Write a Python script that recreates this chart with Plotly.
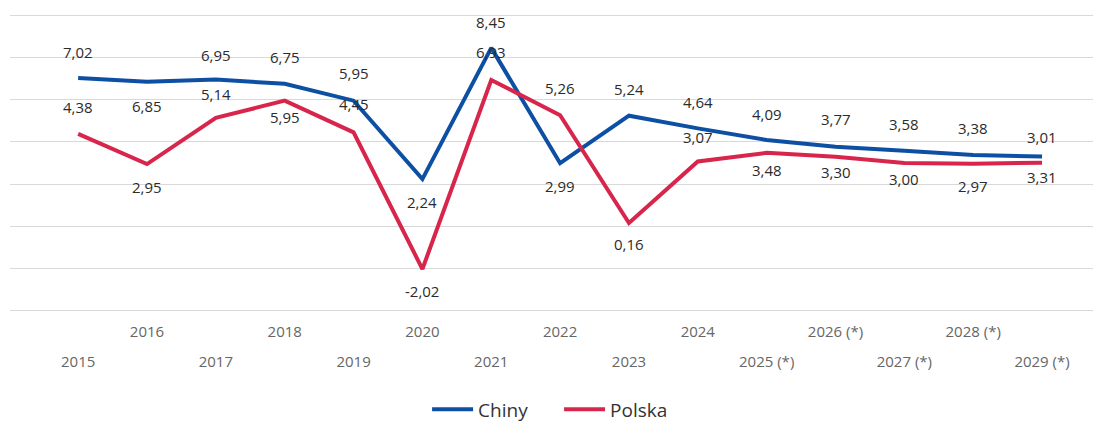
import plotly.graph_objects as go

years = list(range(2015, 2030))
tick_labels = ["2015", "2016", "2017", "2018", "2019", "2020", "2021", "2022", "2023", "2024",
               "2025 (*)", "2026 (*)", "2027 (*)", "2028 (*)", "2029 (*)"]
chiny = [7.02, 6.85, 6.95, 6.75, 5.95, 2.24, 8.45, 2.99, 5.24, 4.64, 4.09, 3.77, 3.58, 3.38, 3.31]
polska = [4.38, 2.95, 5.14, 5.95, 4.45, -2.02, 6.93, 5.26, 0.16, 3.07, 3.48, 3.30, 3.00, 2.97, 3.01]

# label vertical offsets in pixels (positive = above the line)
chiny_label_shift = [26, -24, 25, 27, 28, -23, 26, -23, 27, 26, 26, 28, 27, 27, -21]
polska_label_shift = [27, -23, 24, -16, 28, -22, 28, 27, -21, 25, -17, -15, -16, -22, 26]

BLUE = "#0c4fa3"
RED = "#d8254b"
FONT = "Open Sans"

fig = go.Figure()
fig.add_trace(go.Scatter(x=years, y=chiny, mode="lines", name="Chiny",
                         line=dict(color=BLUE, width=4)))
fig.add_trace(go.Scatter(x=years, y=polska, mode="lines", name="Polska",
                         line=dict(color=RED, width=4)))
# invisible trace to activate second x axis
fig.add_trace(go.Scatter(x=years, y=chiny, mode="lines", xaxis="x2", showlegend=False,
                         line=dict(width=0), hoverinfo="skip", opacity=0))

def fmt(v):
    return f"{v:.2f}".replace(".", ",")

for series, shifts in ((chiny, chiny_label_shift), (polska, polska_label_shift)):
    for yr, v, s in zip(years, series, shifts):
        fig.add_annotation(x=yr, y=v, text=fmt(v), showarrow=False, yshift=s,
                           font=dict(family=FONT, size=15, color="#2b2b2b"))

xr = [2014.01, 2029.74]
even_idx = [i for i in range(len(years)) if i % 2 == 1]
odd_idx = [i for i in range(len(years)) if i % 2 == 0]

fig.update_layout(
    width=1093, height=422,
    margin=dict(l=10, r=0, t=13, b=109),
    paper_bgcolor="white", plot_bgcolor="white",
    font=dict(family=FONT, size=15, color="#333333"),
    showlegend=True,
    legend=dict(orientation="h", xanchor="center", x=0.507, yref="container", y=0.03,
                yanchor="middle", entrywidth=76, entrywidthmode="pixels", itemwidth=41,
                font=dict(family=FONT, size=19, color="#333333")),
    xaxis=dict(range=xr, showgrid=False, zeroline=False, showline=False,
               tickmode="array", tickvals=[years[i] for i in even_idx],
               ticktext=[tick_labels[i] for i in even_idx],
               tickfont=dict(family=FONT, size=15, color="#666666"),
               ticks="", ticklabelstandoff=8),
    xaxis2=dict(range=xr, overlaying="x", side="bottom", anchor="y",
                showgrid=False, zeroline=False, showline=False,
                tickmode="array", tickvals=[years[i] for i in odd_idx],
                ticktext=[tick_labels[i] for i in odd_idx],
                tickfont=dict(family=FONT, size=15, color="#666666"),
                ticks="", ticklabelstandoff=38),
    yaxis=dict(range=[-4.1, 10.1], tickmode="array", tickvals=list(range(-4, 11, 2)),
               showticklabels=False, showgrid=True,
               gridcolor="#d9d9d9", gridwidth=1, zeroline=False, showline=False),
)

fig.write_html("out.html", config={"displayModeBar": False},
               post_script="document.body.style.margin='0';")
